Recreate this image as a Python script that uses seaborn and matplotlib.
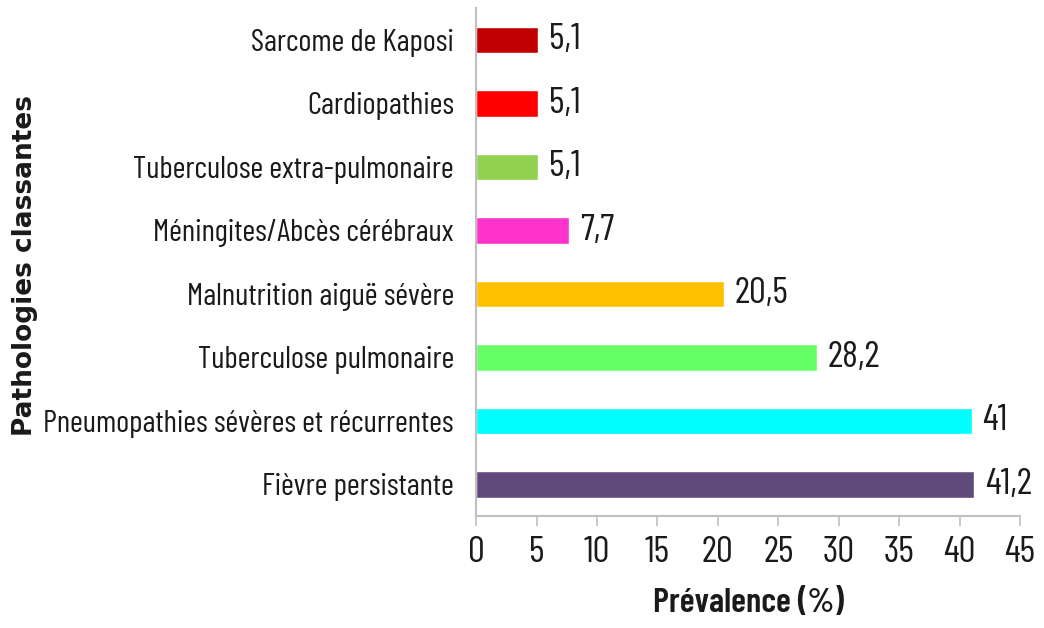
import matplotlib
matplotlib.use("Agg")
import matplotlib.pyplot as plt
import pandas as pd
import seaborn as sns

# Données (du haut vers le bas)
pathologies = [
    "Sarcome de Kaposi",
    "Cardiopathies",
    "Tuberculose extra-pulmonaire",
    "Méningites/Abcès cérébraux",
    "Malnutrition aiguë sévère",
    "Tuberculose pulmonaire",
    "Pneumopathies sévères et récurrentes",
    "Fièvre persistante",
]
prevalence = [5.1, 5.1, 5.1, 7.7, 20.5, 28.2, 41.0, 41.2]
etiquettes = ["5,1", "5,1", "5,1", "7,7", "20,5", "28,2", "41", "41,2"]
couleurs = ["#C00000", "#FF0000", "#92D050", "#FF33CC",
            "#FFC000", "#66FF66", "#00FFFF", "#604A7B"]
ticks_x = list(range(0, 50, 5))

sns.set_theme(style="white")
plt.rcParams["font.family"] = ["Barlow Condensed", "DejaVu Sans"]

df = pd.DataFrame({"PATHOLOGIE": pathologies, "PREVALENCE": prevalence})

fig = plt.figure(figsize=(10.44, 6.28), dpi=100)
ax = fig.add_axes([0.456, 0.178, 0.521, 0.809])

sns.barplot(
    data=df, y="PATHOLOGIE", x="PREVALENCE", hue="PATHOLOGIE",
    palette=dict(zip(pathologies, couleurs)), orient="h", saturation=1,
    width=0.42, legend=False, ax=ax,
)

for bar, txt in zip(ax.patches, etiquettes):
    ax.text(bar.get_width() + 0.9, bar.get_y() + bar.get_height() / 2,
            txt, va="center", ha="left", fontsize=27, color="#1a1a1a")

ax.set_xlim(0, 45)
ax.set_xticks(ticks_x)
ax.set_xticklabels([str(t) for t in ticks_x], fontsize=27, color="#1a1a1a")
ax.tick_params(axis="y", labelsize=22.5, labelcolor="#1a1a1a", length=0, pad=16)
ax.tick_params(axis="x", bottom=True, length=7, width=1.2, color="#BFBFBF", pad=7)

for s in ["top", "right"]:
    ax.spines[s].set_visible(False)
for s in ["left", "bottom"]:
    ax.spines[s].set_color("#BFBFBF")
    ax.spines[s].set_linewidth(1.5)

ax.set_xlabel("Prévalence (%)", fontsize=25, fontweight=600, labelpad=14,
              color="#1a1a1a")
ax.set_ylabel("")
fig.text(0.024, 0.578, "Pathologies classantes", rotation=90, ha="center",
         va="center", fontsize=19, fontweight="bold", color="#1a1a1a",
         family=["DejaVu Sans"])

fig.savefig("out.png", dpi=100)
